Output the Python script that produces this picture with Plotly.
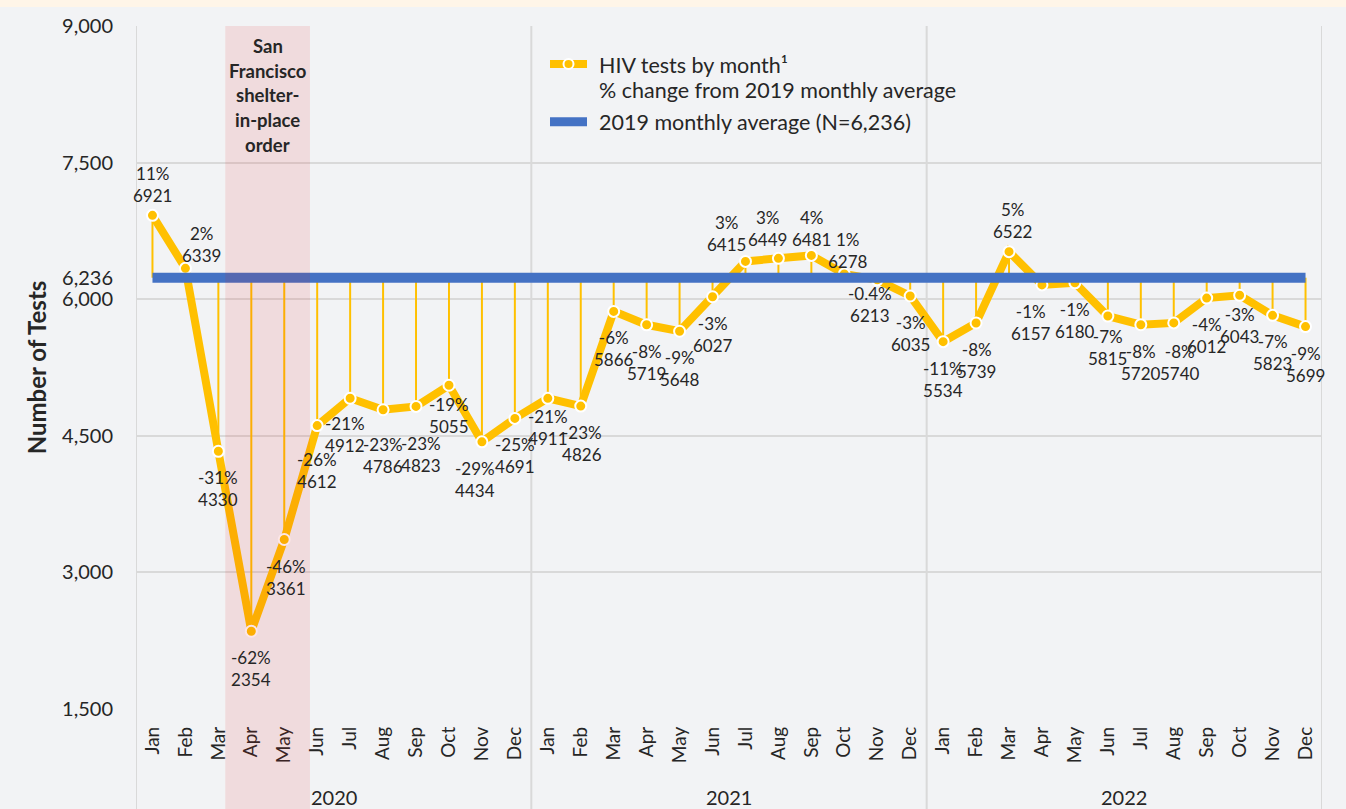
import plotly.graph_objects as go

# ---------------- data ----------------
months = ["Jan", "Feb", "Mar", "Apr", "May", "Jun", "Jul", "Aug", "Sep", "Oct", "Nov", "Dec"]
years = ["2020", "2021", "2022"]

tests_2020 = [6921, 6339, 4330, 2354, 3361, 4612, 4912, 4786, 4823, 5055, 4434, 4691]
tests_2021 = [4911, 4826, 5866, 5719, 5648, 6027, 6415, 6449, 6481, 6278, 6213, 6035]
tests_2022 = [5534, 5739, 6522, 6157, 6180, 5815, 5720, 5740, 6012, 6043, 5823, 5699]

pct_2020 = ["11%", "2%", "-31%", "-62%", "-46%", "-26%", "-21%", "-23%", "-23%", "-19%", "-29%", "-25%"]
pct_2021 = ["-21%", "-23%", "-6%", "-8%", "-9%", "-3%", "3%", "3%", "4%", "1%", "-0.4%", "-3%"]
pct_2022 = ["-11%", "-8%", "5%", "-1%", "-1%", "-7%", "-8%", "-8%", "-4%", "-3%", "-7%", "-9%"]

avg_2019 = 6236
y_ticks = [1500, 3000, 4500, 6000, 7500, 9000]

tests = tests_2020 + tests_2021 + tests_2022
pcts = pct_2020 + pct_2021 + pct_2022
x = list(range(len(tests)))
month_labels = months * len(years)

# ---------------- style ----------------
FONT = "Lato"
TXT = "#262626"
YEL = "#FFC000"
BLUE = "#4472C4"
GRID = "#D9D9D9"
BG = "#F2F3F5"

W, H = 1346, 809
ML, MR, MT, MB = 136, 24, 26, 100
PW, PH = W - ML - MR, H - MT - MB


def px_to_paper_x(px):
    return (px - ML) / PW


def px_to_paper_y(py):
    return (H - MB - py) / PH


# label placement tweaks (pixel offsets: dx, block-center dy; + = down)
label_tweaks = {
    1: (16, -24), 4: (2, None), 5: (0, 45), 6: (-5, 36), 7: (0, 46), 8: (5, 48),
    9: (0, 30.5), 10: (-7, None), 12: (0, 29), 13: (1, None),
    18: (-19, -28), 19: (-11, -29.5), 20: (0, -27), 21: (4, -23.5), 22: (-7, 25),
    26: (3, None), 27: (-11, None), 29: (0, 31.5), 31: (6, 40), 33: (0, 30.5),
}

fig = go.Figure()

# drop lines from each month to the 2019 average
dx_, dy_ = [], []
for i, v in zip(x, tests):
    dx_ += [i, i, None]
    dy_ += [v, avg_2019, None]
fig.add_trace(go.Scatter(x=dx_, y=dy_, mode="lines", line=dict(color=YEL, width=2),
                         hoverinfo="skip", showlegend=False))

# monthly tests
fig.add_trace(go.Scatter(
    x=x, y=tests, mode="lines+markers", name="HIV tests by month¹",
    line=dict(color=YEL, width=8),
    marker=dict(size=11, color=YEL, line=dict(color="white", width=2)),
    showlegend=False,
))

# 2019 average (on the overlaid axis that carries the 6,236 tick; drawn on top)
fig.add_trace(go.Scatter(
    x=[x[0], x[-1]], y=[avg_2019, avg_2019], mode="lines", yaxis="y2",
    name="2019 monthly average (N=6,236)",
    line=dict(color=BLUE, width=10), showlegend=False,
))

annotations = []
for i, (v, p) in enumerate(zip(tests, pcts)):
    above = v >= avg_2019
    dx, dy = label_tweaks.get(i, (0, None))
    if dy is None:
        dy = -31 if above else 37.5
    annotations.append(dict(
        x=i, y=v, xref="x", yref="y", text=f"{p}<br>{v}", showarrow=False,
        xshift=dx, yshift=-dy, xanchor="center", yanchor="middle", align="center",
        font=dict(family=FONT, size=17, color=TXT),
    ))

# year labels
for k, yr in enumerate(years):
    annotations.append(dict(
        x=k * 12 + 5.5, y=px_to_paper_y(797), xref="x", yref="paper", text=yr,
        showarrow=False, xanchor="center", yanchor="middle",
        font=dict(family=FONT, size=20, color=TXT),
    ))

# shelter-in-place annotation (one line each, to match the line spacing)
sip_x0, sip_x1 = 2.21, 4.78
for txt, py in zip(["San", "Francisco", "shelter-", "in-place", "order"],
                   [46, 71, 95.5, 120, 145]):
    annotations.append(dict(
        x=(sip_x0 + sip_x1) / 2, y=px_to_paper_y(py), xref="x", yref="paper",
        text=f"<b>{txt}</b>", showarrow=False,
        xanchor="center", yanchor="middle", align="center",
        font=dict(family=FONT, size=18.5, color=TXT),
    ))

# legend (drawn)
for txt, py in [("HIV tests by month¹", 65), ("% change from 2019 monthly average", 90),
                ("2019 monthly average (N=6,236)", 121.7)]:
    annotations.append(dict(
        x=px_to_paper_x(597), y=px_to_paper_y(py), xref="paper", yref="paper",
        text=txt, showarrow=False, xanchor="left", yanchor="middle", align="left",
        font=dict(family=FONT, size=21.5, color=TXT),
    ))

shapes = []
ybot = px_to_paper_y(H)
for xv in [-0.5, 11.5, 23.5, 35.5]:
    shapes.append(dict(type="line", xref="x", yref="paper", x0=xv, x1=xv, y0=ybot, y1=1,
                       line=dict(color=GRID, width=2), layer="below"))
# shaded shelter-in-place period
shapes.append(dict(type="rect", xref="x", yref="paper", x0=sip_x0, x1=sip_x1, y0=ybot, y1=1,
                   fillcolor="rgba(230,30,30,0.11)", line=dict(width=0), layer="above"))
# legend icons
shapes.append(dict(type="line", xref="paper", yref="paper",
                   x0=px_to_paper_x(550), x1=px_to_paper_x(587),
                   y0=px_to_paper_y(64), y1=px_to_paper_y(64),
                   line=dict(color=YEL, width=8)))
shapes.append(dict(type="circle", xref="paper", yref="paper", xsizemode="pixel", ysizemode="pixel",
                   xanchor=px_to_paper_x(568.5), yanchor=px_to_paper_y(64),
                   x0=-5, x1=5, y0=-5, y1=5, fillcolor=YEL, line=dict(color="white", width=2)))
shapes.append(dict(type="line", xref="paper", yref="paper",
                   x0=px_to_paper_x(550), x1=px_to_paper_x(587),
                   y0=px_to_paper_y(121.7), y1=px_to_paper_y(121.7),
                   line=dict(color=BLUE, width=9)))
# top title strip
shapes.append(dict(type="rect", xref="paper", yref="paper",
                   x0=px_to_paper_x(0), x1=px_to_paper_x(W),
                   y0=px_to_paper_y(7), y1=px_to_paper_y(0),
                   fillcolor="#FFF5E8", line=dict(width=0), layer="below"))

fig.update_layout(
    width=W, height=H,
    margin=dict(l=ML, r=MR, t=MT, b=MB),
    paper_bgcolor=BG, plot_bgcolor=BG,
    font=dict(family=FONT, color=TXT),
    showlegend=False,
    annotations=annotations,
    shapes=shapes,
    xaxis=dict(
        range=[-0.5, 35.5], tickmode="array", tickvals=x, ticktext=month_labels,
        tickangle=-90, showgrid=False, zeroline=False, showline=False,
        tickfont=dict(family=FONT, size=19, color=TXT), ticks="", ticklabelstandoff=13,
    ),
    yaxis=dict(
        range=[1500, 9000], tickmode="array", tickvals=y_ticks, tickformat=",d",
        showgrid=True, gridcolor=GRID, gridwidth=2, zeroline=False, showline=False,
        tickfont=dict(family=FONT, size=20, color=TXT), ticks="", ticklabelstandoff=22,
        title=dict(text="<b>Number of Tests</b>", font=dict(family=FONT, size=24, color=TXT),
                   standoff=8),
    ),
    yaxis2=dict(
        range=[1500, 9000], overlaying="y", side="left", anchor="x",
        tickmode="array", tickvals=[avg_2019], tickformat=",d",
        showgrid=False, zeroline=False, showline=False,
        tickfont=dict(family=FONT, size=20, color=TXT), ticks="", ticklabelstandoff=22,
    ),
)

fig.write_html("out.html", config={"displayModeBar": False},
               post_script="document.body.style.margin='0px';")
